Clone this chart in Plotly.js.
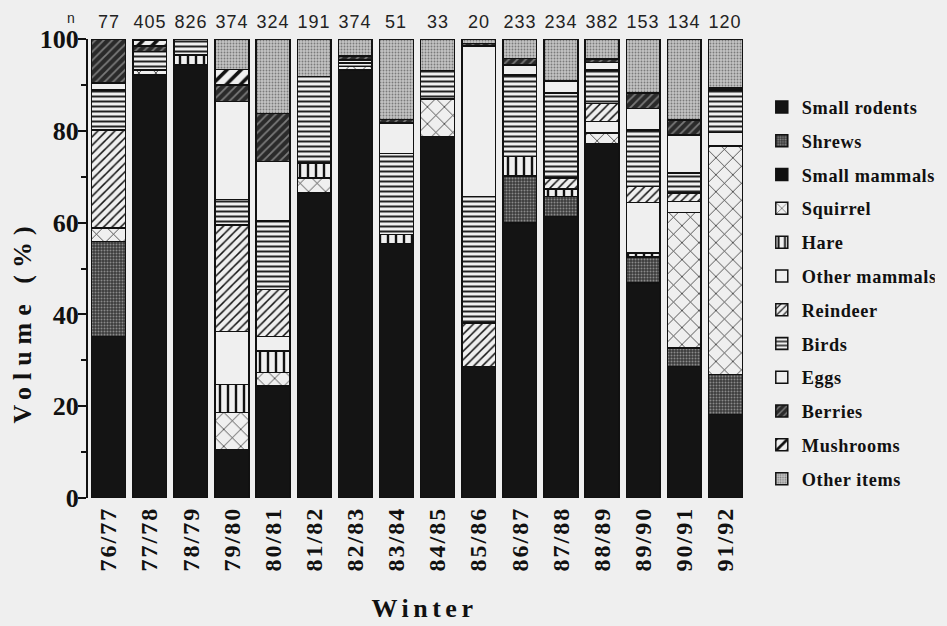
<!DOCTYPE html>
<html>
<head>
<meta charset="utf-8">
<script src="https://cdn.plot.ly/plotly-3.0.1.min.js"></script>
<style>
  html, body { margin: 0; padding: 0; background: #efefef; }
  #chart { width: 947px; height: 626px; }
</style>
</head>
<body>
<div id="chart"></div>
<script>
const winters = ['76/77','77/78','78/79','79/80','80/81','81/82','82/83','83/84','84/85','85/86','86/87','87/88','88/89','89/90','90/91','91/92'];
const nValues = [77,405,826,374,324,191,374,51,33,20,233,234,382,153,134,120];

const smallRodents = [35.2,92.2,94.3,10.6,24.4,66.4,93.3,55.4,78.8,28.7,59.9,61.3,77.2,46.8,28.7,18.2];
const shrews       = [20.7,0,0,0,0,0,0,0,0,0,10.2,4.4,0,5.7,4.0,8.7];
const smallMammals = [0,0,0,0,0,0,0,0,0,0,0,0,0,0,0,0];
const squirrel     = [2.9,1.0,0,8.0,2.9,3.3,0.7,0,8.1,0,0,0,2.3,0,29.5,49.8];
const hare         = [0,0,2.2,6.1,4.7,3.3,0,2.0,0,0,4.3,1.6,0,0.9,0,0];
const otherMammals = [0,0,0,11.6,3.2,0,0,0,0,0,0,0,2.5,11.0,2.4,2.9];
const reindeer     = [21.4,0,0,23.2,10.2,0,0,0,0,9.4,0,2.4,4.0,3.5,1.8,0];
const birds        = [8.7,4.1,3.5,5.5,14.9,18.8,0.8,17.7,6.2,27.6,17.8,18.5,7.2,12.3,4.4,9.3];
const eggs         = [1.5,0,0,21.4,13.0,0,0.6,6.6,0,32.8,2.1,2.7,1.7,4.7,8.3,0];
const berries      = [9.6,1.2,0,3.6,10.5,0,0.9,0.8,0,0.5,1.5,0,0.7,3.3,3.3,0.4];
const mushrooms    = [0,1.3,0,3.4,0,0,0,0,0,0,0,0,0,0,0,0];
const otherItems   = [0,0,0,6.6,16.2,8.2,3.7,17.5,6.9,1.0,4.2,9.1,4.4,11.8,17.6,10.7];

const seriesNames = ['Small rodents','Shrews','Small mammals','Squirrel','Hare','Other mammals','Reindeer','Birds','Eggs','Berries','Mushrooms','Other items'];
const seriesValues = [smallRodents,shrews,smallMammals,squirrel,hare,otherMammals,reindeer,birds,eggs,berries,mushrooms,otherItems];

const BG = '#efefef';
const styles = [
  {color:'#141414'},
  {color:'#3a3a3a', pattern:{shape:'.', bgcolor:'#3c3c3c', fgcolor:'#8a8a8a', size:3, solidity:0.35}},
  {color:'#101010'},
  {color:BG, pattern:{shape:'x', bgcolor:BG, fgcolor:'#222', size:12, solidity:0.12}},
  {color:BG, pattern:{shape:'|', bgcolor:BG, fgcolor:'#111', size:8, solidity:0.3}},
  {color:BG},
  {color:BG, pattern:{shape:'/', bgcolor:BG, fgcolor:'#111', size:6, solidity:0.25}},
  {color:BG, pattern:{shape:'-', bgcolor:BG, fgcolor:'#222', size:5, solidity:0.4}},
  {color:BG},
  {color:'#2a2a2a', pattern:{shape:'/', bgcolor:'#2a2a2a', fgcolor:'#7a7a7a', size:6, solidity:0.3}},
  {color:BG, pattern:{shape:'/', bgcolor:BG, fgcolor:'#111', size:10, solidity:0.35}},
  {color:'#bdbdbd', pattern:{shape:'.', bgcolor:'#c4c4c4', fgcolor:'#7a7a7a', size:3, solidity:0.3}}
];

const traces = seriesNames.map((name, i) => {
  const st = styles[i];
  const marker = {color: st.color, line: {color: '#111', width: 1.5}};
  if (st.pattern) marker.pattern = Object.assign({fillmode:'replace'}, st.pattern);
  return {
    type: 'bar', name: name, x: winters, y: seriesValues[i],
    marker: marker, legendgroup: 'g' + i, hoverinfo: 'name+y'
  };
});

const sans = 'Liberation Sans, Arial, sans-serif';
const serif = 'Liberation Serif, Times New Roman, serif';

const annotations = winters.map((w, i) => ({
  x: w, y: 1.037, xref: 'x', yref: 'paper', text: String(nValues[i]),
  showarrow: false, xanchor: 'center', yanchor: 'middle',
  font: {family: sans, size: 18, color: '#222'}
}));
annotations.push({
  x: -0.017, y: 1.045, xref: 'paper', yref: 'paper', text: 'n', showarrow: false,
  xanchor: 'right', yanchor: 'middle',
  font: {family: sans, size: 14, color: '#222'}
});
const yTitleIndex = annotations.length;
annotations.push({
  x: -0.1, y: 0.385, xref: 'paper', yref: 'paper', text: 'Volume (%)', showarrow: false,
  textangle: -90, xanchor: 'center', yanchor: 'middle',
  font: {family: serif, size: 26, color: '#111', weight: 700}
});
const xTitleIndex = annotations.length;
annotations.push({
  x: 0.511, y: -0.24, xref: 'paper', yref: 'paper', text: 'Winter', showarrow: false,
  xanchor: 'center', yanchor: 'middle',
  font: {family: serif, size: 26, color: '#111', weight: 700}
});

const layout = {
  width: 947, height: 626,
  paper_bgcolor: BG, plot_bgcolor: BG,
  margin: {l: 88, r: 196, t: 39, b: 128},
  barmode: 'stack', bargap: 0.18,
  showlegend: true,
  legend: {
    x: 1.024, xanchor: 'left', y: 0.892, yanchor: 'top',
    traceorder: 'grouped', tracegroupgap: 7,
    font: {family: serif, size: 18.3, color: '#111', weight: 700},
    bgcolor: 'rgba(0,0,0,0)'
  },
  xaxis: {
    type: 'category', showline: false, ticks: '', showgrid: false, zeroline: false,
    tickangle: -90, ticklabelstandoff: 3,
    tickfont: {family: serif, size: 24, color: '#111', weight: 700}
  },
  yaxis: {
    range: [0, 100], showline: true, linecolor: '#111', linewidth: 2,
    ticks: 'outside', ticklen: 8, tickwidth: 2, tickcolor: '#111', dtick: 20,
    minor: {dtick: 10, ticks: 'outside', ticklen: 5, tickwidth: 2, tickcolor: '#111'},
    showgrid: false, zeroline: false, ticklabelstandoff: -6,
    tickfont: {family: serif, size: 26, color: '#111', weight: 700}
  },
  annotations: annotations
};

Plotly.newPlot('chart', traces, layout, {displayModeBar: false, staticPlot: true}).then(gd => {
  gd.querySelectorAll('.xtick text').forEach(t => { t.style.letterSpacing = '2px'; });
  gd.querySelectorAll('.legendtext').forEach(t => { t.style.letterSpacing = '0.6px'; });
  gd.querySelectorAll('.annotation').forEach(a => {
    const idx = Number(a.getAttribute('data-index'));
    const txt = a.querySelector('text');
    if (!txt) return;
    if (idx === yTitleIndex) txt.style.letterSpacing = '7px';
    else if (idx === xTitleIndex) txt.style.letterSpacing = '4.5px';
    else if (idx < winters.length) txt.style.letterSpacing = '1px';
  });
});
</script>
</body>
</html>
